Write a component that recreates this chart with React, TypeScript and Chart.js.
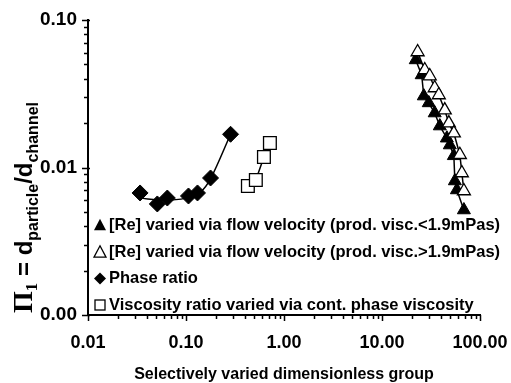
import React, { useEffect, useRef } from 'react';
import { Chart, registerables } from 'chart.js';
Chart.register(...registerables);

const SANS = '"Liberation Sans", Arial, sans-serif';
const SERIF = '"Liberation Serif", "Times New Roman", serif';

const xMin = 0.01;
const xMax = 100;
const yMin = 0.001;
const yMax = 0.1;
const xMajorTicks = [0.01, 0.1, 1, 10, 100];
const xTickLabels = ['0.01', '0.10', '1.00', '10.00', '100.00'];
const yMajorTicks = [0.001, 0.01, 0.1];
const yTickLabels = ['0.00', '0.01', '0.10'];

const xTitle = 'Selectively varied dimensionless group';

const legendLabels = [
  '[Re] varied via flow velocity (prod. visc.<1.9mPas)',
  '[Re] varied via flow velocity (prod. visc.>1.9mPas)',
  'Phase ratio',
  'Viscosity ratio varied via cont. phase viscosity',
];

// [Re] varied, prod. visc. < 1.9 mPas (filled triangles)
const reLowX = [22.1, 25.4, 26.7, 30.0, 34.5, 38.9, 45.9, 49.2, 54.1, 55.4, 58.1, 68.5];
const reLowY = [0.0536, 0.0424, 0.0305, 0.0274, 0.0234, 0.0191, 0.0158, 0.0142, 0.012, 0.0081, 0.00704, 0.00515];

// [Re] varied, prod. visc. > 1.9 mPas (open triangles)
const reHighX = [23.1, 27.3, 30.7, 34.5, 38.0, 43.7, 48.1, 54.1, 62.3, 65.3, 68.5];
const reHighY = [0.0607, 0.0458, 0.0417, 0.0346, 0.031, 0.0245, 0.02, 0.0171, 0.0122, 0.00918, 0.00693];

// Phase ratio (filled diamonds)
const phaseX = [0.034, 0.051, 0.0645, 0.106, 0.131, 0.178, 0.285];
const phaseY = [0.00672, 0.00566, 0.00621, 0.00641, 0.00672, 0.00849, 0.0168];
// Phase ratio trend line
const phaseTrendX = [0.034, 0.06, 0.1, 0.14, 0.18, 0.285];
const phaseTrendY = [0.0062, 0.006, 0.0062, 0.0068, 0.0085, 0.0168];

// Viscosity ratio (open squares)
const viscX = [0.428, 0.516, 0.624, 0.718];
const viscY = [0.0075, 0.00822, 0.01178, 0.01466];

const pts = (xs: number[], ys: number[]) => xs.map((x, i) => ({ x, y: ys[i] }));

function logTickValues(min: number, max: number): number[] {
  const out: number[] = [];
  const e0 = Math.round(Math.log10(min));
  const e1 = Math.round(Math.log10(max));
  for (let e = e0; e < e1; e++) {
    for (let m = 1; m < 10; m++) out.push(parseFloat((m * Math.pow(10, e)).toPrecision(3)));
  }
  out.push(max);
  return out;
}

const majorIndex = (majors: number[], v: number) => majors.findIndex((m) => Math.abs(m - v) / m < 1e-6);

function drawTri(ctx: CanvasRenderingContext2D, cx: number, cy: number, s: number, filled: boolean) {
  const h = s * 0.866;
  ctx.beginPath();
  ctx.moveTo(cx, cy - h / 2 - 1);
  ctx.lineTo(cx + s / 2, cy + h / 2);
  ctx.lineTo(cx - s / 2, cy + h / 2);
  ctx.closePath();
  if (filled) { ctx.fillStyle = '#000'; ctx.fill(); }
  else { ctx.fillStyle = '#fff'; ctx.fill(); ctx.lineWidth = 1.3; ctx.strokeStyle = '#000'; ctx.stroke(); }
}
function drawDiamond(ctx: CanvasRenderingContext2D, cx: number, cy: number, r: number) {
  ctx.beginPath();
  ctx.moveTo(cx, cy - r);
  ctx.lineTo(cx + r, cy);
  ctx.lineTo(cx, cy + r);
  ctx.lineTo(cx - r, cy);
  ctx.closePath();
  ctx.fillStyle = '#000';
  ctx.fill();
}
function drawSquare(ctx: CanvasRenderingContext2D, cx: number, cy: number, s: number) {
  ctx.lineWidth = 1.3;
  ctx.strokeStyle = '#000';
  ctx.strokeRect(cx - s / 2, cy - s / 2, s, s);
}

const decorPlugin = {
  id: 'decor',
  afterDraw(chart: any) {
    const ctx: CanvasRenderingContext2D = chart.ctx;
    const xs = chart.scales.x;
    const ys = chart.scales.y;
    const ca = chart.chartArea;
    ctx.save();
    ctx.strokeStyle = '#000';
    ctx.lineWidth = 1.5;
    ctx.beginPath();
    for (const t of xs.ticks) {
      const px = Math.round(xs.getPixelForValue(t.value)) + 0.5;
      const maj = majorIndex(xMajorTicks, t.value) >= 0;
      ctx.moveTo(px, ca.bottom);
      ctx.lineTo(px, ca.bottom + (maj ? 6 : 4));
    }
    for (const t of ys.ticks) {
      const py = Math.round(ys.getPixelForValue(t.value)) + 0.5;
      const maj = majorIndex(yMajorTicks, t.value) >= 0;
      ctx.moveTo(ca.left + (maj ? 2 : 1), py);
      ctx.lineTo(ca.left - (maj ? 6 : 4), py);
    }
    ctx.stroke();

    // legend inside plot area (bottom-left)
    const rowY = [225, 252, 278.5, 305];
    const mx = ca.left + 12;
    const tx = ca.left + 21;
    ctx.textBaseline = 'middle';
    ctx.textAlign = 'left';
    drawTri(ctx, mx, rowY[0], 12, true);
    drawTri(ctx, mx, rowY[1], 12, false);
    drawDiamond(ctx, mx, rowY[2], 6);
    drawSquare(ctx, mx, rowY[3], 10);
    ctx.fillStyle = '#000';
    ctx.font = `bold 16.5px ${SANS}`;
    legendLabels.forEach((l, i) => ctx.fillText(l, tx, rowY[i]));

    // y axis title: Π1 = d_particle / d_channel
    ctx.translate(32, 313);
    ctx.rotate(-Math.PI / 2);
    ctx.textBaseline = 'alphabetic';
    ctx.fillStyle = '#000';
    let x = 0;
    const seg = (t: string, font: string, dy: number) => {
      ctx.font = font;
      ctx.fillText(t, x, dy);
      x += ctx.measureText(t).width;
    };
    seg('\u03A0', `bold 28px ${SERIF}`, 0);
    seg('1', `bold 17px ${SERIF}`, 5);
    seg(' = d', `bold 24px ${SANS}`, 0);
    seg('particle', `bold 16px ${SANS}`, 6);
    seg('/d', `bold 24px ${SANS}`, 0);
    seg('channel', `bold 16px ${SANS}`, 6);
    ctx.restore();
  },
};

export default function App() {
  const ref = useRef<HTMLCanvasElement | null>(null);
  useEffect(() => {
    if (!ref.current) return;
    const chart = new Chart(ref.current, {
      type: 'scatter',
      data: {
        datasets: [
          {
            label: legendLabels[1],
            data: pts(reHighX, reHighY),
            showLine: true,
            borderColor: '#000',
            borderWidth: 1.5,
            pointStyle: 'triangle',
            pointRadius: 7.5,
            pointBackgroundColor: '#fff',
            pointBorderColor: '#000',
            pointBorderWidth: 1.3,
          },
          {
            label: legendLabels[0],
            data: pts(reLowX, reLowY),
            showLine: true,
            borderColor: '#000',
            borderWidth: 1.5,
            pointStyle: 'triangle',
            pointRadius: 7.5,
            pointBackgroundColor: '#000',
            pointBorderColor: '#000',
            pointBorderWidth: 1,
          },
          {
            label: legendLabels[2],
            data: pts(phaseX, phaseY),
            showLine: false,
            pointStyle: 'rectRot',
            pointRadius: 8,
            pointBackgroundColor: '#000',
            pointBorderColor: '#000',
            pointBorderWidth: 1,
          },
          {
            label: 'Phase ratio trend',
            data: pts(phaseTrendX, phaseTrendY),
            showLine: true,
            borderColor: '#000',
            borderWidth: 1.5,
            pointRadius: 0,
            tension: 0.3,
          },
          {
            label: legendLabels[3],
            data: pts(viscX, viscY),
            showLine: true,
            borderColor: '#000',
            borderWidth: 1.5,
            pointStyle: 'rect',
            pointRadius: 9,
            pointBackgroundColor: '#fff',
            pointBorderColor: '#000',
            pointBorderWidth: 1.3,
          },
        ],
      },
      options: {
        animation: false,
        responsive: false,
        maintainAspectRatio: false,
        layout: { padding: { left: 0, right: 31, top: 20, bottom: 0 } },
        plugins: { legend: { display: false }, tooltip: { enabled: false } },
        scales: {
          x: {
            type: 'logarithmic',
            min: xMin,
            max: xMax,
            afterBuildTicks: (s: any) => { s.ticks = logTickValues(xMin, xMax).map((v) => ({ value: v })); },
            afterFit: (s: any) => { s.height = 68; s.paddingLeft = 0; s.paddingRight = 0; },
            grid: { display: false, drawTicks: false },
            border: { display: true, color: '#000', width: 2 },
            ticks: {
              autoSkip: false,
              maxRotation: 0,
              padding: 17,
              color: '#000',
              font: { family: SANS, size: 18, weight: 'bold' },
              callback: (v: any) => { const i = majorIndex(xMajorTicks, Number(v)); return i >= 0 ? xTickLabels[i] : ''; },
            },
            title: {
              display: true,
              text: xTitle,
              color: '#000',
              font: { family: SANS, size: 16, weight: 'bold', lineHeight: 1 },
              padding: { top: 0, bottom: 0 },
            },
          },
          y: {
            type: 'logarithmic',
            min: yMin,
            max: yMax,
            afterBuildTicks: (s: any) => { s.ticks = logTickValues(yMin, yMax).map((v) => ({ value: v })); },
            afterFit: (s: any) => { s.width = 88; s.paddingTop = 0; s.paddingBottom = 0; },
            grid: { display: false, drawTicks: false },
            border: { display: true, color: '#000', width: 2 },
            ticks: {
              autoSkip: false,
              padding: 11,
              color: '#000',
              font: { family: SANS, size: 19, weight: 'bold' },
              callback: (v: any) => { const i = majorIndex(yMajorTicks, Number(v)); return i >= 0 ? yTickLabels[i] : ''; },
            },
          },
        },
      },
      plugins: [decorPlugin],
    } as any);
    return () => chart.destroy();
  }, []);
  return (
    <div style={{ position: 'fixed', left: 0, top: 0, width: 511, height: 383, background: '#fff' }}>
      <canvas ref={ref} width={511} height={383} />
    </div>
  );
}
